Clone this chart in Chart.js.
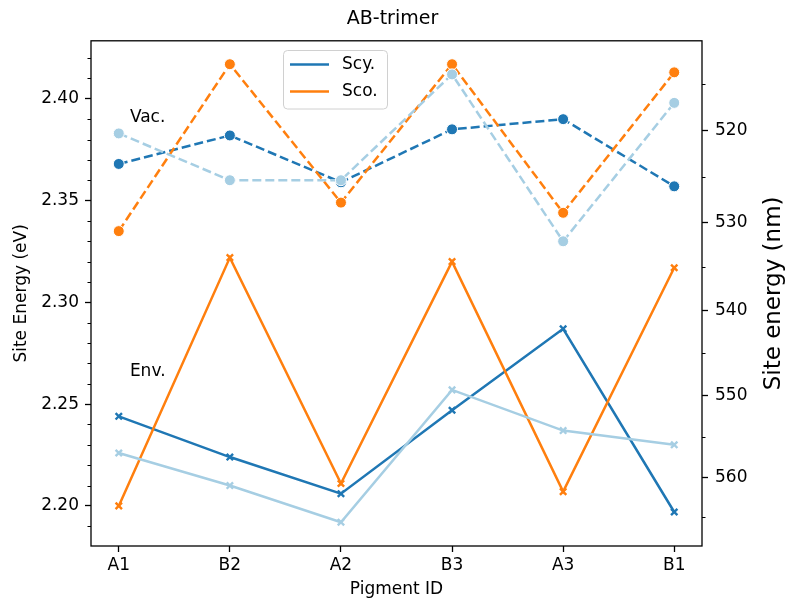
<!DOCTYPE html>
<html>
<head>
<meta charset="utf-8">
<script src="https://cdn.jsdelivr.net/npm/chart.js@4.4.0/dist/chart.umd.min.js"></script>
<style>
  body { margin: 0; background: #fff; }
  canvas { display: block; }
</style>
</head>
<body>
<canvas id="chart" width="785" height="602"></canvas>
<script>
const categories = ["A1", "B2", "A2", "B3", "A3", "B1"];

// vacuum values (dashed, circles)
const vacScy = [2.368, 2.382, 2.359, 2.385, 2.390, 2.357];
const vacSco = [2.335, 2.417, 2.349, 2.417, 2.344, 2.413];
const vacRef = [2.383, 2.360, 2.360, 2.412, 2.330, 2.398];

// environment values (solid, crosses)
const envScy = [2.244, 2.224, 2.206, 2.247, 2.287, 2.197];
const envSco = [2.200, 2.322, 2.211, 2.320, 2.207, 2.317];
const envRef = [2.226, 2.210, 2.192, 2.257, 2.237, 2.230];

const eVTicks = [2.20, 2.25, 2.30, 2.35, 2.40];
const eVMinor = [2.19, 2.21, 2.22, 2.23, 2.24, 2.26, 2.27, 2.28, 2.29, 2.31, 2.32,
  2.33, 2.34, 2.36, 2.37, 2.38, 2.39, 2.41, 2.42];
const nmTicks = [520, 530, 540, 550, 560];
const nmMinor = [515, 525, 535, 545, 555, 565];

const HC = 1239.84;
const FONT = "'DejaVu Sans', sans-serif";
const BLUE = "#1f77b4";
const ORANGE = "#ff7f0e";
const LIGHT = "#a6cee3";

function series(label, values, color, dashed, order) {
  return {
    label: label,
    data: values.map((v, i) => ({ x: i, y: v })),
    borderColor: color,
    backgroundColor: color,
    borderWidth: 2.5,
    borderDash: dashed ? [9, 4] : [],
    pointStyle: dashed ? "circle" : "crossRot",
    pointRadius: dashed ? 5.5 : 4.5,
    pointBackgroundColor: color,
    pointBorderColor: dashed ? "#ffffff" : color,
    pointBorderWidth: dashed ? 1 : 2.4,
    order: order,
    yAxisID: "y",
  };
}

// frame, minor ticks, legend, labels and the right axis title
const decor = {
  id: "decor",
  afterDraw(chart) {
    const { ctx, chartArea: a, scales } = chart;
    ctx.save();
    ctx.strokeStyle = "#000";
    ctx.lineWidth = 1.3;
    ctx.strokeRect(a.left, a.top, a.right - a.left, a.bottom - a.top);

    ctx.lineWidth = 1.1;
    ctx.beginPath();
    eVMinor.forEach((v) => {
      const y = Math.round(scales.y.getPixelForValue(v)) + 0.5;
      ctx.moveTo(a.left, y);
      ctx.lineTo(a.left - 3.5, y);
    });
    nmMinor.forEach((nm) => {
      const y = Math.round(scales.y.getPixelForValue(HC / nm)) + 0.5;
      ctx.moveTo(a.right, y);
      ctx.lineTo(a.right + 3.5, y);
    });
    ctx.stroke();

    // text labels
    ctx.fillStyle = "#000";
    ctx.font = "17px " + FONT;
    ctx.textAlign = "left";
    ctx.textBaseline = "middle";
    ctx.fillText("Vac.", scales.x.getPixelForValue(0.1), scales.y.getPixelForValue(2.391));
    ctx.fillText("Env.", scales.x.getPixelForValue(0.1), scales.y.getPixelForValue(2.266));

    // legend
    ctx.beginPath();
    ctx.roundRect(283.5, 50.5, 104, 58.5, 4);
    ctx.fillStyle = "rgba(255,255,255,0.8)";
    ctx.fill();
    ctx.strokeStyle = "#d0d0d0";
    ctx.lineWidth = 1;
    ctx.stroke();
    [["Scy.", BLUE, 64.5], ["Sco.", ORANGE, 91.5]].forEach(([txt, col, y]) => {
      ctx.strokeStyle = col;
      ctx.lineWidth = 2.5;
      ctx.beginPath();
      ctx.moveTo(290, y);
      ctx.lineTo(329, y);
      ctx.stroke();
      ctx.fillStyle = "#000";
      ctx.fillText(txt, 342, y);
    });

    // right axis title, reading bottom to top
    ctx.translate(780, (a.top + a.bottom) / 2);
    ctx.rotate(-Math.PI / 2);
    ctx.textAlign = "center";
    ctx.textBaseline = "alphabetic";
    ctx.font = "23px " + FONT;
    ctx.fillText("Site energy (nm)", 0, 0);
    ctx.restore();
  },
};

const tickGrid = {
  drawOnChartArea: false,
  drawTicks: true,
  tickLength: 6,
  tickColor: "#000",
  tickWidth: 1.3,
};

new Chart(document.getElementById("chart"), {
  type: "line",
  data: {
    datasets: [
      series("Scy.", vacScy, BLUE, true, 3),
      series("Sco.", vacSco, ORANGE, true, 2),
      series("ref", vacRef, LIGHT, true, 1),
      series("Scy.", envScy, BLUE, false, 3),
      series("Sco.", envSco, ORANGE, false, 2),
      series("ref", envRef, LIGHT, false, 1),
    ],
  },
  options: {
    responsive: false,
    animation: false,
    devicePixelRatio: 1,
    events: [],
    layout: { padding: 0 },
    plugins: {
      legend: { display: false },
      tooltip: { enabled: false },
      title: {
        display: true,
        text: "AB-trimer",
        color: "#000",
        font: { family: FONT, size: 19, weight: "normal" },
        padding: { top: 8, bottom: 10 },
      },
    },
    scales: {
      x: {
        type: "linear",
        min: -0.25,
        max: 5.25,
        afterBuildTicks: (s) => {
          s.ticks = categories.map((c, i) => ({ value: i }));
        },
        afterFit: (s) => {
          s.height = 56;
        },
        ticks: {
          callback: (v) => categories[v],
          color: "#000",
          padding: 3,
          maxRotation: 0,
          autoSkip: false,
          font: { family: FONT, size: 17 },
        },
        grid: tickGrid,
        border: { display: false },
        title: {
          display: true,
          text: "Pigment ID",
          color: "#000",
          font: { family: FONT, size: 17 },
          padding: { top: 0, bottom: 2 },
        },
      },
      y: {
        position: "left",
        min: 2.1803,
        max: 2.4285,
        afterBuildTicks: (s) => {
          s.ticks = eVTicks.map((v) => ({ value: v }));
        },
        afterFit: (s) => {
          s.width = 91;
        },
        ticks: {
          callback: (v) => v.toFixed(2),
          color: "#000",
          padding: 6,
          font: { family: FONT, size: 17 },
        },
        grid: tickGrid,
        border: { display: false },
        title: {
          display: true,
          text: "Site Energy (eV)",
          color: "#000",
          font: { family: FONT, size: 17 },
          padding: { top: 11 },
        },
      },
      y2: {
        position: "right",
        min: 2.1803,
        max: 2.4285,
        afterBuildTicks: (s) => {
          s.ticks = nmTicks.map((nm) => ({ value: HC / nm }));
        },
        afterFit: (s) => {
          s.width = 83;
        },
        ticks: {
          callback: (v) => String(Math.round(HC / v)),
          color: "#000",
          padding: 7,
          font: { family: FONT, size: 17 },
        },
        grid: tickGrid,
        border: { display: false },
      },
    },
  },
  plugins: [decor],
});
</script>
</body>
</html>
